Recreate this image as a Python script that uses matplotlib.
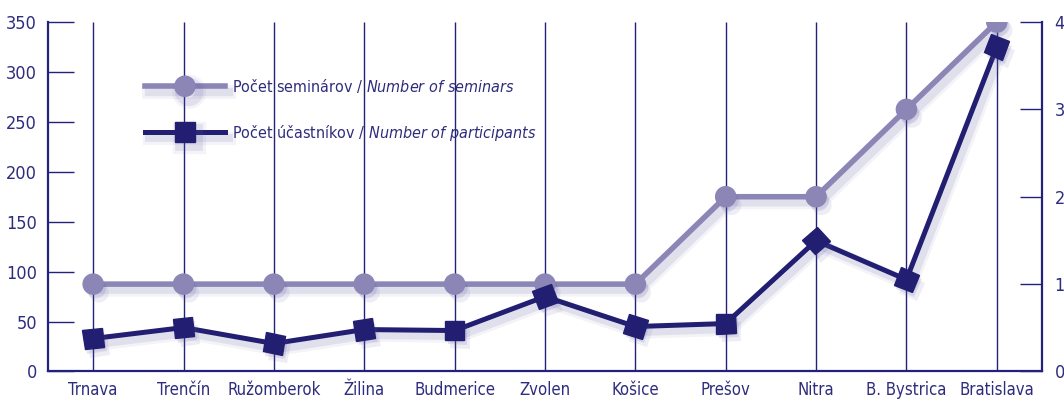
import numpy as np
import matplotlib
matplotlib.use('Agg')
import matplotlib.pyplot as plt
import matplotlib.patheffects as pe
from matplotlib.markers import MarkerStyle
from matplotlib.transforms import Affine2D
from matplotlib.lines import Line2D

# data
cities = ['Trnava', 'Trenčín', 'Ružomberok', 'Žilina', 'Budmerice', 'Zvolen',
          'Košice', 'Prešov', 'Nitra', 'B. Bystrica', 'Bratislava']
seminars = [1, 1, 1, 1, 1, 1, 1, 2, 2, 3, 4]
participants = [33, 44, 28, 42, 41, 75, 45, 48, 131, 92, 325]

plt.rcParams['font.family'] = ['DejaVu Sans']
plt.rcParams['font.stretch'] = 'condensed'
plt.rcParams['mathtext.fontset'] = 'custom'
plt.rcParams['mathtext.rm'] = 'DejaVu Sans:stretch=condensed'
plt.rcParams['mathtext.it'] = 'DejaVu Sans:style=oblique:stretch=condensed'

NAVY = '#24217a'
LIGHT = '#8b86b6'
DARK = '#221e72'
TXT = '#2e2c7c'
SH = '#5a58a0'


def line_shadow(lw):
    return [pe.SimpleLineShadow(offset=(3, -4), shadow_color=SH, alpha=0.07, linewidth=lw + 6),
            pe.SimpleLineShadow(offset=(3, -4), shadow_color=SH, alpha=0.12, linewidth=lw + 2),
            pe.Normal()]


def marker_shadow():
    return [pe.SimplePatchShadow(offset=(2, -3), shadow_rgbFace=SH, alpha=0.15),
            pe.SimplePatchShadow(offset=(4, -6), shadow_rgbFace=SH, alpha=0.10),
            pe.Normal()]


fig = plt.figure(figsize=(10.64, 4.01), dpi=100)
ax2 = fig.add_axes([0.0451, 0.0736, 0.9342, 0.8716])
ax = ax2.twinx()
ax.yaxis.tick_left()
ax2.yaxis.tick_right()
ax.set_zorder(ax2.get_zorder() + 1)
ax.patch.set_visible(False)

x = np.arange(len(cities))
ax.set_xlim(-0.5, len(cities) - 0.5)
ax.set_ylim(0, 350)
ax2.set_ylim(0, 4)

# vertical grid at each city, behind everything
ax2.vlines(x, 0, 4, color=NAVY, lw=1, zorder=0)

# seminars (right axis)
ax2.plot(x, seminars, color=LIGHT, lw=4, solid_capstyle='round', zorder=2,
         path_effects=line_shadow(4))
ax2.plot(x, seminars, ls='none', marker='o', ms=14.5, color=LIGHT, mec=LIGHT,
         zorder=3, path_effects=marker_shadow())

# participants (left axis)
ax.plot(x, participants, color=DARK, lw=3.6, zorder=2, path_effects=line_shadow(3.6))
pts = ax.transData.transform(np.c_[x, participants])
d = np.diff(pts, axis=0)
seg = np.degrees(np.arctan2(d[:, 1], d[:, 0]))
angles = np.r_[seg[0], seg]
for xi, yi, a in zip(x, participants, angles):
    m = MarkerStyle('s', transform=Affine2D().rotate_deg(a))
    ax.plot([xi], [yi], ls='none', marker=m, ms=14, color=DARK, mec=DARK,
            zorder=3, path_effects=marker_shadow())

# axes styling
for a_ in (ax, ax2):
    for s in a_.spines.values():
        s.set_visible(False)
for s in ('left', 'bottom', 'right'):
    ax.spines[s].set_visible(True)
    ax.spines[s].set_color(NAVY)
    ax.spines[s].set_linewidth(1.6)

ax.set_yticks(range(0, 351, 50))
ax2.set_yticks(range(0, 5))
ax.tick_params(axis='y', direction='in', length=19, width=1, color=NAVY, pad=8,
               labelsize=13, labelcolor=TXT)
ax2.tick_params(axis='y', direction='in', length=16, width=1, color=NAVY, pad=9,
                labelsize=13, labelcolor=TXT)
ax2.set_xticks(x)
ax2.set_xticklabels(cities)
ax2.tick_params(axis='x', length=0, pad=7, labelsize=12, labelcolor=TXT)

# legend
handles = [
    Line2D([], [], color=LIGHT, lw=4, marker='o', ms=14.5, mec=LIGHT,
           path_effects=line_shadow(4)),
    Line2D([], [], color=DARK, lw=3.6, marker='s', ms=14, mec=DARK,
           path_effects=line_shadow(3.6)),
]
labels = [r'Počet seminárov / $\mathit{Number\ of\ seminars}$',
          r'Počet účastníkov / $\mathit{Number\ of\ participants}$']
leg = ax.legend(handles, labels, loc='upper left', bbox_to_anchor=(0.0976, 0.843),
                frameon=False, fontsize=11.5, handlelength=5.0, handletextpad=0.45,
                labelspacing=1.75, borderpad=0, borderaxespad=0, numpoints=1)
for t in leg.get_texts():
    t.set_color(TXT)

fig.savefig('out.png', dpi=100)
